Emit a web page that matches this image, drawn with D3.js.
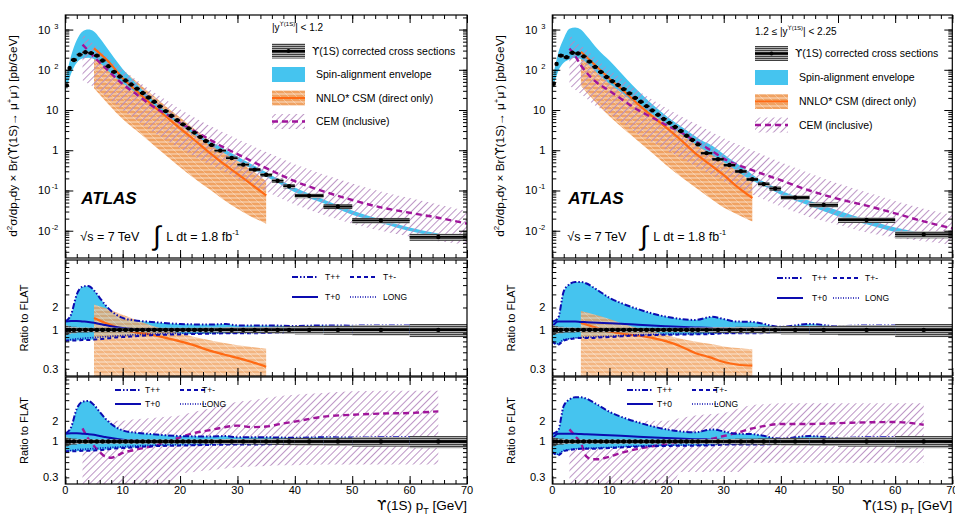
<!DOCTYPE html>
<html><head><meta charset="utf-8">
<script src="https://cdn.jsdelivr.net/npm/d3@7"></script>
<style>body{margin:0;background:#fff;} svg{display:block;} text{font-family:"Liberation Sans",Arial,Helvetica,sans-serif;fill:#000;} .ups{font-family:"DejaVu Sans",sans-serif;}</style>
</head><body><svg id="c" width="955" height="518"></svg>
<script>
// ---------------- DATA ----------------
const binCentre = [0.25,0.75,1.5,2.5,3.5,4.5,5.5,6.5,7.5,8.5,9.5,10.5,11.5,12.5,13.5,14.5,15.5,16.5,17.5,18.5,19.5,20.5,21.5,22.5,23.5,24.5,25.5,27,29,31,33,35,37,39,42.5,47.5,55,65];
const binHalf   = [0.25,0.25,0.5,0.5,0.5,0.5,0.5,0.5,0.5,0.5,0.5,0.5,0.5,0.5,0.5,0.5,0.5,0.5,0.5,0.5,0.5,0.5,0.5,0.5,0.5,0.5,0.5,1,1,1,1,1,1,1,2.5,2.5,5,5];
const relErr    = [0.15,0.12,0.1,0.08,0.08,0.07,0.07,0.07,0.07,0.07,0.07,0.07,0.07,0.07,0.07,0.07,0.07,0.07,0.07,0.07,0.07,0.07,0.07,0.07,0.07,0.08,0.08,0.08,0.09,0.09,0.1,0.1,0.11,0.12,0.13,0.14,0.16,0.2];
const xsCentral = [41,110,175,238,272,260,225,170,122,89,68,54,43,34,26.5,20.5,16,12.3,9.4,7.2,5.6,4.4,3.5,2.75,2.15,1.7,1.35,0.98,0.64,0.44,0.33,0.246,0.175,0.128,0.074,0.04,0.018,0.007];
const xsForward = [45,140,225,205,265,255,215,160,118,88,66,52,42,33,26,20,16,12.5,9.8,7.6,6.0,4.8,3.8,3.0,2.3,1.8,1.4,0.85,0.6,0.43,0.3,0.19,0.144,0.112,0.067,0.044,0.0185,0.0081];

const envPT = [0,1,2,3,4,5,6,8,10,12,14,16,18,20,22,24,26,28,30,32,34,36,38,40,45,50,55,60,65];
const envHiCentral = [55,220,550,900,1000,900,620,250,105,52,26,14,8.2,5.0,3.2,2.05,1.45,1.02,0.7,0.49,0.34,0.235,0.165,0.118,0.06,0.032,0.019,0.012,0.0085];
const envLoCentral = [28,80,150,190,200,185,150,80,46,29,18,11,6.8,4.3,2.7,1.75,1.15,0.8,0.55,0.38,0.265,0.185,0.13,0.09,0.048,0.025,0.0155,0.0098,0.007];
const envHiForward = [55,250,600,1050,1130,1000,700,320,170,85,42,22,12,7,4.4,2.8,1.8,1.3,0.8,0.5,0.32,0.2,0.14,0.1,0.056,0.032,0.019,0.012,0.0088];
const envLoForward = [30,90,150,180,200,185,150,80,45,28,17,11,7,4.5,2.9,1.8,1.15,0.75,0.5,0.33,0.21,0.15,0.11,0.078,0.042,0.023,0.0145,0.0093,0.0068];

const csmPT = [5,7.5,10,12.5,15,17.5,20,22.5,25,27.5,30,32.5,35];
const csmMidCentral = [340,160,62,29,14,7,3.5,1.8,0.9,0.47,0.26,0.14,0.075];
const csmHiCentral  = [480,230,100,50,25,12.5,6.5,3.4,1.8,1.0,0.55,0.32,0.17];
const csmLoCentral  = [35,14,6,3,1.5,0.75,0.38,0.2,0.11,0.06,0.035,0.022,0.015];
const csmMidForward = [280,130,60,30,14,7,3.6,1.8,0.85,0.45,0.24,0.12,0.065];
const csmHiForward  = [450,220,100,50,25,12.5,6.5,3.4,1.8,0.95,0.52,0.3,0.165];
const csmLoForward  = [40,16,7,3.4,1.7,0.85,0.42,0.22,0.12,0.066,0.038,0.025,0.017];

const cemPT = [3,4,5,7.5,10,12.5,15,17.5,20,22.5,25,27.5,30,35,40,45,50,55,60,65,70];
const cemMidCentral = [420,300,210,95,44,24,13,8,4.8,3.0,1.9,1.2,0.8,0.36,0.17,0.095,0.058,0.038,0.028,0.021,0.015];
const cemHiCentral  = [800,580,430,210,100,55,30,18,10.5,6.5,4.2,2.8,1.9,0.9,0.45,0.25,0.15,0.095,0.065,0.045,0.031];
const cemLoCentral  = [55,45,38,20,10,5.5,3,1.8,1.1,0.7,0.45,0.3,0.2,0.095,0.045,0.025,0.015,0.01,0.0072,0.0055,0.0045];
const cemMidForward = [340,220,130,52,30,17,10,6.5,4.2,2.8,1.7,1.05,0.62,0.32,0.18,0.1,0.062,0.042,0.027,0.017,0.0115];
const cemHiForward  = [800,500,400,200,100,55,30,18,11,7,4.6,3,2,1.0,0.5,0.27,0.15,0.09,0.055,0.035,0.025];
const cemLoForward  = [40,32,25,13,8,4.5,2.5,1.6,1.0,0.65,0.4,0.26,0.17,0.08,0.04,0.022,0.014,0.009,0.0068,0.0055,0.0045];

const rPT = [0,1,2,3,4,5,6,7,8,10,12,15,20,25,28,30,32,35,40,45,50,55,60,65];
const TppCentral  = [1.3,1.6,3.0,3.8,3.9,3.4,2.7,2.15,1.8,1.45,1.35,1.28,1.2,1.18,1.2,1.15,1.15,1.15,1.13,1.15,1.14,1.15,1.15,1.15];
const TpmCentral  = [0.72,0.72,0.72,0.73,0.73,0.74,0.75,0.76,0.78,0.8,0.82,0.85,0.87,0.89,0.9,0.9,0.9,0.91,0.92,0.92,0.92,0.92,0.92,0.92];
const LongCentral = [0.7,0.74,0.76,0.77,0.78,0.79,0.8,0.81,0.82,0.84,0.86,0.88,0.9,0.9,0.91,0.91,0.92,0.92,0.93,0.93,0.93,0.93,0.93,0.93];
const T0Central   = [1.3,1.32,1.32,1.3,1.28,1.25,1.2,1.16,1.12,1.06,1.03,1.01,1.0,1.0,1.0,1.0,1.0,1.0,1.0,1.0,1.0,1.0,1.0,1.0];
const TppForward  = [1.29,1.43,3.3,4.1,4.4,4.4,4.2,3.8,3.4,2.7,2.3,1.9,1.5,1.36,1.5,1.4,1.3,1.28,1.1,1.2,1.12,1.15,1.15,1.15];
const TpmForward  = [0.7,0.63,0.72,0.75,0.77,0.78,0.78,0.78,0.79,0.8,0.82,0.84,0.86,0.87,0.88,0.9,0.9,0.9,0.92,0.92,0.92,0.92,0.92,0.92];
const LongForward = [0.68,0.65,0.74,0.76,0.78,0.79,0.8,0.8,0.81,0.82,0.84,0.86,0.88,0.89,0.9,0.91,0.91,0.92,0.93,0.93,0.93,0.93,0.93,0.93];
const T0Forward   = [1.1,1.3,1.3,1.3,1.3,1.28,1.27,1.26,1.25,1.23,1.21,1.17,1.12,1.08,1.06,1.05,1.03,1.02,1.0,1.0,1.0,1.0,1.0,1.0];

const csmRMidCentral = [1.45,1.2,1.02,0.92,0.86,0.78,0.7,0.62,0.53,0.47,0.42,0.37,0.32];
const csmRHiCentral  = [2.2,1.9,1.6,1.35,1.15,1.0,0.9,0.8,0.73,0.67,0.62,0.59,0.56];
const csmRLoCentral  = [0.2,0.16,0.12,0.1,0.09,0.08,0.07,0.06,0.05,0.05,0.05,0.05,0.05];
const csmRMidForward = [1.25,1.08,0.95,0.88,0.84,0.78,0.7,0.6,0.49,0.43,0.37,0.34,0.33];
const csmRHiForward  = [1.8,1.6,1.4,1.2,1.05,0.95,0.85,0.76,0.7,0.65,0.6,0.57,0.55];
const csmRLoForward  = [0.2,0.16,0.12,0.1,0.09,0.08,0.07,0.06,0.05,0.05,0.05,0.05,0.05];

const cemRPT = [3,4,5,6,7,8,9,10,12,15,17.5,20,22.5,25,27.5,30,32.5,35,37.5,40,45,50,55,60,65];
const cemRMidCentral = [1.55,1.1,0.86,0.7,0.6,0.58,0.62,0.68,0.75,0.85,0.98,1.15,1.33,1.45,1.6,1.7,1.62,1.65,1.8,1.95,2.3,2.45,2.55,2.6,2.75];
const cemRHiCentral  = [2.3,2.2,2.1,2.0,2.0,2.0,2.0,2.0,2.1,2.2,2.3,2.4,2.7,3.0,3.4,3.8,4.0,4.3,4.6,4.8,5.1,5.4,5.5,5.5,5.5];
const cemRLoCentral  = [0.15,0.15,0.15,0.15,0.15,0.15,0.15,0.15,0.15,0.15,0.15,0.34,0.36,0.38,0.4,0.42,0.43,0.44,0.45,0.45,0.46,0.46,0.46,0.46,0.46];
const cemRMidForward = [1.5,1.2,0.95,0.6,0.55,0.55,0.57,0.6,0.68,0.78,0.85,0.92,0.97,1.02,1.08,1.2,1.35,1.55,1.7,1.8,1.8,1.85,1.9,1.92,1.75];
const cemRHiForward  = [2.2,2.1,2.0,1.9,1.9,1.9,1.9,1.9,1.9,2.0,2.0,2.0,2.2,2.4,2.5,2.6,3.0,3.4,3.5,3.6,3.6,3.6,3.6,3.6,3.6];
const cemRLoForward  = [0.15,0.15,0.15,0.15,0.15,0.15,0.15,0.15,0.15,0.15,0.15,0.15,0.36,0.36,0.36,0.36,0.36,0.49,0.49,0.49,0.49,0.49,0.49,0.49,0.49];

const xMajor = [0,10,20,30,40,50,60,70];
const topTickVals = [0.01,0.1,1,10,100,1000];
const topTickBase = ["10","10","1","10","10","10"];
const topTickExp  = ["-2","-1","","","2","3"];
const ratioTickVals = [0.3,1,2];
const ratioTickText = ["0.3","1","2"];
const legendTitles = ["|y", "1.2 \u2264 |y"];
const legendTitleTail = ["| < 1.2", "| < 2.25"];
const legendLabels = ["(1S) corrected cross sections","Spin-alignment envelope","NNLO* CSM (direct only)","CEM (inclusive)"];

// ---------------- DRAW ----------------
const svg = d3.select('#c');
const defs = svg.append('defs');
const CYAN = '#45c4ef', ORANGE = '#ff6a14', PURPLE = '#a0149b', BLUE = '#0c0cb0';
{
  const p = defs.append('pattern').attr('id','pData').attr('patternUnits','userSpaceOnUse').attr('width',4).attr('height',2);
  p.append('rect').attr('width',4).attr('height',2).attr('fill','#b0b0b0');
  p.append('line').attr('x1',0).attr('x2',4).attr('y1',0.5).attr('y2',0.5).attr('stroke','#333').attr('stroke-width',0.9);
  const o = defs.append('pattern').attr('id','pOrange').attr('patternUnits','userSpaceOnUse').attr('width',8).attr('height',8);
  o.append('rect').attr('width',8).attr('height',8).attr('fill','#f0a262');
  o.append('line').attr('x1',0).attr('x2',8).attr('y1',2).attr('y2',2).attr('stroke','#fff').attr('stroke-width',0.8).attr('opacity',0.8);
  o.append('line').attr('x1',0).attr('x2',8).attr('y1',6).attr('y2',6).attr('stroke','#fff').attr('stroke-width',0.8).attr('opacity',0.8);
  o.append('line').attr('x1',0).attr('x2',8).attr('y1',0).attr('y2',8).attr('stroke','#fff').attr('stroke-width',0.6).attr('opacity',0.5);
  const q = defs.append('pattern').attr('id','pPurple').attr('patternUnits','userSpaceOnUse').attr('width',5).attr('height',5).attr('patternTransform','rotate(45)');
  q.append('line').attr('x1',0.5).attr('x2',0.5).attr('y1',0).attr('y2',5).attr('stroke','#b58ac0').attr('stroke-width',0.9);
}

const L = {top:[15,258], r1:[260,376], r2:[377,484]};
const panels = [
  {x0:65.3, x1:467, data:xsCentral, envHi:envHiCentral, envLo:envLoCentral, csmMid:csmMidCentral, csmHi:csmHiCentral, csmLo:csmLoCentral,
   cemMid:cemMidCentral, cemHi:cemHiCentral, cemLo:cemLoCentral, Tpp:TppCentral, Tpm:TpmCentral, Long:LongCentral, T0:T0Central,
   csmRMid:csmRMidCentral, csmRHi:csmRHiCentral, csmRLo:csmRLoCentral, cemRMid:cemRMidCentral, cemRHi:cemRHiCentral, cemRLo:cemRLoCentral,
   leg:{sx:272, tx:316, ty:27, rows:[51,74.5,98,121.5]}, r1leg:{sx:[292,350], tx:[325,383], y:[277,297]}, r2leg:{sx:[115,180], tx:[145,202], y:[390,404]}},
  {x0:552.3, x1:952.3, data:xsForward, envHi:envHiForward, envLo:envLoForward, csmMid:csmMidForward, csmHi:csmHiForward, csmLo:csmLoForward,
   cemMid:cemMidForward, cemHi:cemHiForward, cemLo:cemLoForward, Tpp:TppForward, Tpm:TpmForward, Long:LongForward, T0:T0Forward,
   csmRMid:csmRMidForward, csmRHi:csmRHiForward, csmRLo:csmRLoForward, cemRMid:cemRMidForward, cemRHi:cemRHiForward, cemRLo:cemRLoForward,
   leg:{sx:755, tx:799, ty:31, rows:[53.5,77.5,101.5,125]}, r1leg:{sx:[777,833], tx:[812,865], y:[278,298]}, r2leg:{sx:[627,692], tx:[657,714], y:[390,404]}}
];

function band(g, xs, lo, hi, x, y, fill) {
  const a = d3.area().x((d,i)=>x(xs[i])).y0((d,i)=>y(lo[i])).y1((d,i)=>y(hi[i])).curve(d3.curveMonotoneX);
  return g.append('path').datum(xs).attr('d', a).attr('fill', fill).attr('stroke','none');
}
function line(g, xs, ys, x, y, stroke, w, dash) {
  const l = d3.line().x((d,i)=>x(xs[i])).y((d,i)=>y(ys[i])).curve(d3.curveMonotoneX);
  const p = g.append('path').datum(xs).attr('d', l).attr('fill','none').attr('stroke',stroke).attr('stroke-width',w);
  if (dash) p.attr('stroke-dasharray', dash);
  return p;
}
function logMinors(dom) {
  const out = [];
  for (let e=-4; e<=4; e++) for (let m=1; m<=9; m++) { const v=m*Math.pow(10,e); if (v>=dom[0] && v<=dom[1]) out.push(v); }
  return out;
}
function frame(g, x, y, x0, x1, yr, yMaj, yMin) {
  const xMin = d3.range(0,70.01,2);
  const mk = (axis) => { const s = g.append('g').call(axis); s.select('.domain').remove(); s.selectAll('text').remove(); s.selectAll('line').attr('stroke','#000').attr('stroke-width',1); return s; };
  mk(d3.axisBottom(x).tickValues(xMin).tickSize(-4)).attr('transform',`translate(0,${yr[1]})`);
  mk(d3.axisBottom(x).tickValues(xMajor).tickSize(-8)).attr('transform',`translate(0,${yr[1]})`);
  mk(d3.axisTop(x).tickValues(xMin).tickSize(-4)).attr('transform',`translate(0,${yr[0]})`);
  mk(d3.axisTop(x).tickValues(xMajor).tickSize(-8)).attr('transform',`translate(0,${yr[0]})`);
  mk(d3.axisLeft(y).tickValues(yMin).tickSize(-4)).attr('transform',`translate(${x0},0)`);
  mk(d3.axisLeft(y).tickValues(yMaj).tickSize(-8)).attr('transform',`translate(${x0},0)`);
  mk(d3.axisRight(y).tickValues(yMin).tickSize(-4)).attr('transform',`translate(${x1},0)`);
  mk(d3.axisRight(y).tickValues(yMaj).tickSize(-8)).attr('transform',`translate(${x1},0)`);
  g.append('rect').attr('x',x0).attr('y',yr[0]).attr('width',x1-x0).attr('height',yr[1]-yr[0]).attr('fill','none').attr('stroke','#000').attr('stroke-width',1.2);
}
function dataPoints(g, x, y, vals, lw) {
  binCentre.forEach((c,i) => {
    const v = vals[i], e = relErr[i], h = binHalf[i];
    g.append('rect').attr('x', x(c-h)).attr('width', x(c+h)-x(c-h)).attr('y', y(v*(1+e))).attr('height', Math.max(1, y(v*(1-e))-y(v*(1+e)))).attr('fill','url(#pData)');
    g.append('line').attr('x1',x(c-h)).attr('x2',x(c+h)).attr('y1',y(v)).attr('y2',y(v)).attr('stroke','#000').attr('stroke-width',lw);
    g.append('circle').attr('cx',x(c)).attr('cy',y(v)).attr('r',2.2).attr('fill','#000');
  });
}

panels.forEach((P, pi) => {
  const x = d3.scaleLinear().domain([0,70]).range([P.x0, P.x1]);
  const yT = d3.scaleLog().domain([0.0021, 2300]).range([L.top[1], L.top[0]]);
  const y1 = d3.scaleLog().domain([0.24, 8.7]).range([L.r1[1], L.r1[0]]);
  const y2 = d3.scaleLog().domain([0.24, 8.7]).range([L.r2[1], L.r2[0]]);
  const G = svg.append('g');
  [['top',L.top],['r1',L.r1],['r2',L.r2]].forEach(([k,r]) => {
    defs.append('clipPath').attr('id',`clip${pi}${k}`).append('rect').attr('x',P.x0).attr('y',r[0]).attr('width',P.x1-P.x0).attr('height',r[1]-r[0]);
  });

  // ---- top panel
  const gt = G.append('g').attr('clip-path',`url(#clip${pi}top)`);
  band(gt, csmPT, P.csmLo, P.csmHi, x, yT, 'url(#pOrange)');
  band(gt, envPT, P.envLo, P.envHi, x, yT, CYAN);
  band(gt, cemPT, P.cemLo, P.cemHi, x, yT, 'url(#pPurple)');
  line(gt, csmPT, P.csmMid, x, yT, ORANGE, 2.2);
  line(gt, cemPT, P.cemMid, x, yT, PURPLE, 2.4, '6,4');
  dataPoints(gt, x, yT, P.data, 1.8);
  frame(G, x, yT, P.x0, P.x1, L.top, topTickVals, logMinors([0.0021,2300]));
  topTickVals.forEach((v,i) => {
    G.append('text').attr('x', P.x0-7 - (topTickExp[i] ? 8 : 0)).attr('y', yT(v)+4).attr('text-anchor','end').attr('font-size',11).text(topTickBase[i]);
    if (topTickExp[i]) G.append('text').attr('x', P.x0-7).attr('y', yT(v)-1).attr('text-anchor','end').attr('font-size',7.5).text(topTickExp[i]);
  });
  // legend
  const lg = P.leg;
  const tt = G.append('text').attr('x', lg.sx).attr('y', lg.ty+4).attr('font-size',10);
  tt.append('tspan').text(legendTitles[pi]);
  tt.append('tspan').attr('font-size',6).attr('dy',-5).attr('class','ups').text('\u03d2');
  tt.append('tspan').attr('font-size',6).text('(1S)');
  tt.append('tspan').attr('dy',5).text(legendTitleTail[pi]);
  const sw = 33, sh = 15;
  lg.rows.forEach((ry, i) => {
    const t = G.append('text').attr('x', lg.tx - (i===0?4:0)).attr('y', ry+3.5).attr('font-size',10.5);
    if (i===0) t.append('tspan').attr('class','ups').text('\u03d2');
    t.append('tspan').text(legendLabels[i]);
  });
  let r = lg.rows;
  G.append('rect').attr('x',lg.sx).attr('y',r[0]-sh/2).attr('width',sw).attr('height',sh).attr('fill','url(#pData)');
  G.append('line').attr('x1',lg.sx).attr('x2',lg.sx+sw).attr('y1',r[0]).attr('y2',r[0]).attr('stroke','#000').attr('stroke-width',1.8);
  G.append('circle').attr('cx',lg.sx+sw/2).attr('cy',r[0]).attr('r',2).attr('fill','#000');
  G.append('rect').attr('x',lg.sx).attr('y',r[1]-sh/2).attr('width',sw).attr('height',sh).attr('fill',CYAN);
  G.append('rect').attr('x',lg.sx).attr('y',r[2]-sh/2).attr('width',sw).attr('height',sh).attr('fill','url(#pOrange)');
  G.append('line').attr('x1',lg.sx).attr('x2',lg.sx+sw).attr('y1',r[2]).attr('y2',r[2]).attr('stroke',ORANGE).attr('stroke-width',2.2);
  G.append('rect').attr('x',lg.sx).attr('y',r[3]-sh/2).attr('width',sw).attr('height',sh).attr('fill','url(#pPurple)');
  G.append('line').attr('x1',lg.sx).attr('x2',lg.sx+sw).attr('y1',r[3]).attr('y2',r[3]).attr('stroke',PURPLE).attr('stroke-width',2.4).attr('stroke-dasharray','6,4');
  // ATLAS text
  G.append('text').attr('x',P.x0+16).attr('y',204).attr('font-size',17).attr('font-weight','bold').attr('font-style','italic').text('ATLAS');
  G.append('text').attr('x',P.x0+15).attr('y',241).attr('font-size',12.5).text('\u221as = 7 TeV');
  G.append('text').attr('x',P.x0+88).attr('y',245).attr('font-size',27).attr('font-weight','300').text('\u222b');
  const lt = G.append('text').attr('x',P.x0+101).attr('y',241).attr('font-size',12.5);
  lt.append('tspan').text('L dt = 1.8 fb');
  lt.append('tspan').attr('font-size',8).attr('dy',-6).text('-1');
  // y title
  const yt = G.append('text').attr('transform',`translate(${P.x0-48},136) rotate(-90)`).attr('text-anchor','middle').attr('font-size',11.8);
  yt.append('tspan').text('d');
  yt.append('tspan').attr('font-size',8).attr('dy',-5).text('2');
  yt.append('tspan').attr('dy',5).text('\u03c3/dp');
  yt.append('tspan').attr('font-size',8).attr('dy',3).text('T');
  yt.append('tspan').attr('dy',-3).text('dy \u00d7 Br(');
  yt.append('tspan').attr('class','ups').text('\u03d2');
  yt.append('tspan').text('(1S)\u2192 \u03bc');
  yt.append('tspan').attr('font-size',8).attr('dy',-5).text('+');
  yt.append('tspan').attr('dy',5).text('\u03bc');
  yt.append('tspan').attr('font-size',8).attr('dy',-5).text('-');
  yt.append('tspan').attr('dy',5).text(') [pb/GeV]');

  // ---- ratio panels
  [[y1, L.r1, 'r1', true],[y2, L.r2, 'r2', false]].forEach(([y, rr, k, isCsm]) => {
    const g = G.append('g').attr('clip-path',`url(#clip${pi}${k})`);
    const envTop = P.Tpp, envBot = rPT.map((d,i)=>Math.min(P.Tpm[i], P.Long[i]));
    if (!isCsm) band(g, cemRPT, P.cemRLo, P.cemRHi, x, y, 'url(#pPurple)');
    band(g, rPT, envBot, envTop, x, y, CYAN);
    if (isCsm) {
      band(g, csmPT, P.csmRLo, P.csmRHi, x, y, 'url(#pOrange)').attr('opacity',0.8);
      line(g, csmPT, P.csmRMid, x, y, ORANGE, 2.2);
    } else {
      line(g, cemRPT, P.cemRMid, x, y, PURPLE, 2.4, '6,4');
    }
    line(g, rPT, P.Tpp, x, y, BLUE, 2, '6,2,1.5,2,1.5,2');
    line(g, rPT, P.Tpm, x, y, BLUE, 2, '4,3');
    line(g, rPT, P.Long, x, y, BLUE, 1.6, '1,1.5');
    line(g, rPT, P.T0, x, y, BLUE, 2);
    dataPoints(g, x, y, binCentre.map(()=>1), 2.4);
    frame(G, x, y, P.x0, P.x1, rr, [1], logMinors([0.24,8.7]).filter(v=>v!==1));
    ratioTickVals.forEach((v,i)=>{
      G.append('text').attr('x',P.x0-7).attr('y',y(v)+4).attr('text-anchor','end').attr('font-size',11).text(ratioTickText[i]);
    });
    G.append('text').attr('transform',`translate(${P.x0-37},${(rr[0]+rr[1])/2}) rotate(-90)`).attr('text-anchor','middle').attr('font-size',11).text('Ratio to FLAT');
    const lgR = isCsm ? P.r1leg : P.r2leg;
    const items = [['T++','6,2,1.5,2,1.5,2',2],['T+-','4,3',2],['T+0',null,2],['LONG','1,1.5',1.6]];
    items.forEach((it, j) => {
      const col = j % 2, row = Math.floor(j/2);
      const yy = lgR.y[row];
      const sx = lgR.sx[col];
      const ln = G.append('line').attr('x1',sx).attr('x2',sx+26).attr('y1',yy).attr('y2',yy).attr('stroke',BLUE).attr('stroke-width',it[2]);
      if (it[1]) ln.attr('stroke-dasharray', it[1]);
      G.append('text').attr('x',lgR.tx[col]).attr('y',yy+3).attr('font-size',8.5).text(it[0]);
    });
  });
  // x labels
  xMajor.forEach(v => G.append('text').attr('x',x(v)).attr('y',494).attr('text-anchor','middle').attr('font-size',11).text(v));
  const xt = G.append('text').attr('x',P.x1).attr('y',510).attr('text-anchor','end').attr('font-size',13.5);
  xt.append('tspan').attr('class','ups').text('\u03d2');
  xt.append('tspan').text('(1S) p');
  xt.append('tspan').attr('font-size',9).attr('dy',4).text('T');
  xt.append('tspan').attr('dy',-4).text(' [GeV]');
});
</script></body></html>
